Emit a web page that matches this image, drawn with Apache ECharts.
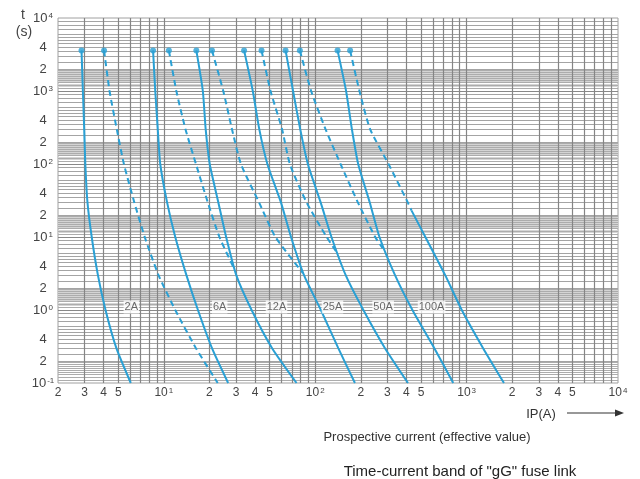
<!DOCTYPE html>
<html><head><meta charset="utf-8">
<script src="https://cdn.jsdelivr.net/npm/echarts@6/dist/echarts.min.js"></script>
<style>html,body{margin:0;padding:0;background:#fff}#c{width:640px;height:479px}</style>
</head><body><div id="c"></div>
<script>
// ---------------- DATA ----------------
// time points (s) used for the full curves
const timeFull = [3600, 1000, 300, 100, 30, 10, 3, 1, 0.3, 0.1];

// minimum pre-arcing curves (solid): current in A at each time of timeFull
const min2A   = [2.86, 2.92, 2.98, 3.03, 3.13, 3.34, 3.67, 4.12, 4.86, 6.05];
const min6A   = [8.49, 8.78, 9.12, 9.47, 10.5, 11.9, 14.1, 16.8, 20.8, 26.6];
const min12A  = [16.4, 18.1, 18.9, 20.1, 22.9, 25.8, 30.1, 38.0, 51.9, 75.3];
const min25A  = [33.9, 38.7, 42.7, 48.3, 59.3, 69.2, 84.3, 109, 142, 183];
const min50A  = [63.7, 71.4, 79.6, 89.4, 108.5, 128, 159, 208, 289, 410];
const min100A = [140.5, 159.9, 174.7, 192.2, 229, 265.8, 336.6, 438.6, 612, 816];

// maximum operating curves (dashed)
const max2A_t   = [3600, 1000, 300, 100, 30, 10, 3, 1, 0.3, 0.1];
const max2A     = [4.03, 4.38, 4.89, 5.45, 6.38, 7.48, 9.23, 11.9, 16.3, 22.7];
const max6A_t   = [3600, 1000, 300, 100, 30, 10, 3.5];
const max6A     = [10.8, 12.1, 13.9, 16.3, 19.5, 23.3, 29.5];
const max12A_t  = [3600, 1000, 300, 100, 30, 10, 3.2];
const max12A    = [20.8, 24.7, 28.2, 32.3, 42.5, 54.6, 83];
const max25A_t  = [3600, 1000, 300, 100, 30, 10, 6];
const max25A    = [44.2, 50.7, 60.4, 68.0, 87.5, 119, 140];
const max50A_t  = [3600, 1000, 300, 100, 30, 10, 7];
const max50A    = [79.2, 94.0, 117, 147, 191, 249, 279];
const max100A_t = [3600, 1000, 300, 100, 30, 23];
const max100A   = [170, 196, 230.5, 305, 408, 433];
// lower continuation of the 100A band edge (drawn solid)
const tail100A_t = [23, 10, 3, 1, 0.3, 0.1];
const tail100A   = [433, 534, 722, 929, 1285, 1765];

// rating labels
const ratingNames = ['2A', '6A', '12A', '25A', '50A', '100A'];
const ratingLabelI = [6.1, 23.4, 55.5, 130, 281, 587];
const ratingLabelT = 1.1;

// tick labels
const yTickValues = [10000, 4000, 2000, 1000, 400, 200, 100, 40, 20, 10, 4, 2, 1, 0.4, 0.2, 0.1];
const yTickLabels = ['10{s|4}', '4', '2', '10{s|3}', '4', '2', '10{s|2}', '4', '2', '10{s|1}', '4', '2', '10{s|0}', '4', '2', '10{s|-1}'];
const xTickValues = [2, 3, 4, 5, 10, 20, 30, 40, 50, 100, 200, 300, 400, 500, 1000, 2000, 3000, 4000, 5000, 10000];
const xTickLabels = ['2', '3', '4', '5', '10{s|1}', '2', '3', '4', '5', '10{s|2}', '2', '3', '4', '5', '10{s|3}', '2', '3', '4', '5', '10{s|4}'];

// log-paper grid
const xDecades = [1, 10, 100, 1000];
const xGridMant = [2, 3, 4, 5, 6, 7, 8, 9, 10];
const yDecades = [0.1, 1, 10, 100, 1000];
const yDenseMant = [1.1, 1.2, 1.3, 1.4, 1.5, 1.6, 1.7, 1.8, 1.9];
const yFineMant = [1.15, 1.25, 1.35, 1.45, 1.55, 1.65, 1.75, 1.85, 1.95];
const yMidMant = [2, 2.5, 3, 3.5, 4, 4.5, 5, 5.5, 6, 7, 8, 9];
const yMajorVals = [1, 10, 100, 1000];

// ---------------- CHART ----------------
const FONT = 'Liberation Sans, Arial, sans-serif';
const BLUE = '#2aa0d4';
const chart = echarts.init(document.getElementById('c'));
function pairs(I, T) { return I.map((v, i) => [v, T[i]]); }

const xGridVals = [];
xDecades.forEach(d => xGridMant.forEach(m => { const v = +(d * m).toPrecision(6); if (v > 2 && v < 10000) xGridVals.push(v); }));
const yDenseVals = [], yFineVals = [], yMidVals = [];
yDecades.forEach(d => {
  yDenseMant.forEach(m => yDenseVals.push(+(d * m).toPrecision(6)));
  yFineMant.forEach(m => yFineVals.push(+(d * m).toPrecision(6)));
  yMidMant.forEach(m => yMidVals.push(+(d * m).toPrecision(6)));
});

const rich = { s: { fontSize: 8, fontFamily: FONT, color: '#444', verticalAlign: 'top', lineHeight: 8, padding: [0, 0, 4, 1] } };

function gridLines(vals, dim, color, width) {
  return {
    type: 'line', data: [], silent: true, z: 1, animation: false,
    markLine: {
      silent: true, animation: false, symbol: ['none', 'none'],
      label: { show: false },
      lineStyle: { color: color, width: width, type: 'solid' },
      emphasis: { disabled: true },
      data: vals.map(v => ({ [dim]: v }))
    }
  };
}

const SM = 0.2;
const solidSeries = [min2A, min6A, min12A, min25A, min50A, min100A].map(arr => ({
  type: 'line', data: pairs(arr, timeFull), symbol: 'none', smooth: SM, z: 5, animation: false,
  lineStyle: { color: BLUE, width: 2 }
}));
const dashedSeries = [[max2A, max2A_t], [max6A, max6A_t], [max12A, max12A_t], [max25A, max25A_t], [max50A, max50A_t], [max100A, max100A_t]].map(p => ({
  type: 'line', data: pairs(p[0], p[1]), symbol: 'none', smooth: SM, z: 5, animation: false,
  lineStyle: { color: BLUE, width: 2, type: [6, 4] }
}));
const tailSeries = {
  type: 'line', data: pairs(tail100A, tail100A_t), symbol: 'none', smooth: SM, z: 5, animation: false,
  lineStyle: { color: BLUE, width: 2 }
};
const markerSeries = {
  type: 'scatter', z: 6, animation: false, symbol: 'circle', symbolSize: 6,
  itemStyle: { color: BLUE },
  data: [min2A, max2A, min6A, max6A, min12A, max12A, min25A, max25A, min50A, max50A, min100A, max100A].map(a => [a[0], 3600])
};
const ratingLabels = {
  type: 'scatter', z: 7, animation: false, symbolSize: 0,
  data: ratingNames.map((n, i) => ({ name: n, value: [ratingLabelI[i], ratingLabelT] })),
  label: { show: true, position: 'inside', formatter: '{b}', fontSize: 11, fontFamily: FONT, color: '#444', backgroundColor: '#fff', padding: [1, 1] }
};
const hidden = { color: 'rgba(0,0,0,0)', width: 0 };
const yLabelSeries = {
  type: 'line', data: [], silent: true, z: 2, animation: false,
  markLine: {
    silent: true, animation: false, symbol: ['none', 'none'],
    lineStyle: hidden,
    label: { show: true, position: 'start', distance: 15, align: 'center', color: '#444', fontSize: 13, fontFamily: FONT, rich: rich },
    data: yTickValues.map((v, i) => ({ yAxis: v, label: { formatter: yTickLabels[i] } }))
  }
};
const xLabelSeries = {
  type: 'line', data: [], silent: true, z: 2, animation: false,
  markLine: {
    silent: true, animation: false, symbol: ['none', 'none'],
    lineStyle: hidden,
    label: { show: true, position: 'start', distance: 4, color: '#444', fontSize: 12, fontFamily: FONT, rich: rich },
    data: xTickValues.map((v, i) => ({ xAxis: v, label: { formatter: xTickLabels[i] } }))
  }
};

chart.setOption({
  animation: false,
  grid: { left: 58, right: 22, top: 18, bottom: 96, show: true, borderColor: '#a0a0a0', borderWidth: 1, backgroundColor: '#fff' },
  xAxis: { type: 'log', logBase: 10, min: 2, max: 10000, axisLine: { show: false }, axisTick: { show: false }, axisLabel: { show: false }, splitLine: { show: false } },
  yAxis: { type: 'log', logBase: 10, min: 0.1, max: 10000, axisLine: { show: false }, axisTick: { show: false }, axisLabel: { show: false }, splitLine: { show: false } },
  series: [
    gridLines(yFineVals, 'yAxis', '#d4d4d4', 1),
    gridLines(yDenseVals, 'yAxis', '#acacac', 1),
    gridLines(yMidVals, 'yAxis', '#a4a4a4', 1),
    gridLines(yMajorVals, 'yAxis', '#888888', 1),
    gridLines(xGridVals, 'xAxis', '#858585', 1.2),
    yLabelSeries, xLabelSeries,
    ...solidSeries, ...dashedSeries, tailSeries, markerSeries, ratingLabels
  ],
  graphic: [
    { type: 'text', x: 23, y: 15, style: { text: 't', align: 'center', verticalAlign: 'middle', fontSize: 14, fontFamily: FONT, fill: '#444' } },
    { type: 'text', x: 24, y: 32, style: { text: '(s)', align: 'center', verticalAlign: 'middle', fontSize: 14, fontFamily: FONT, fill: '#444' } },
    { type: 'text', x: 541, y: 414, style: { text: 'IP(A)', align: 'center', verticalAlign: 'middle', fontSize: 13, fontFamily: FONT, fill: '#333' } },
    { type: 'line', shape: { x1: 567, y1: 413, x2: 616, y2: 413 }, style: { stroke: '#333', lineWidth: 1.2 } },
    { type: 'polygon', shape: { points: [[624, 413], [615, 409.5], [615, 416.5]] }, style: { fill: '#333' } },
    { type: 'text', x: 427, y: 437, style: { text: 'Prospective current (effective value)', align: 'center', verticalAlign: 'middle', fontSize: 13, fontFamily: FONT, fill: '#333' } },
    { type: 'text', x: 460, y: 472, style: { text: 'Time-current band of "gG" fuse link', align: 'center', verticalAlign: 'middle', fontSize: 15, fontFamily: FONT, fill: '#222' } }
  ]
});
</script></body></html>
